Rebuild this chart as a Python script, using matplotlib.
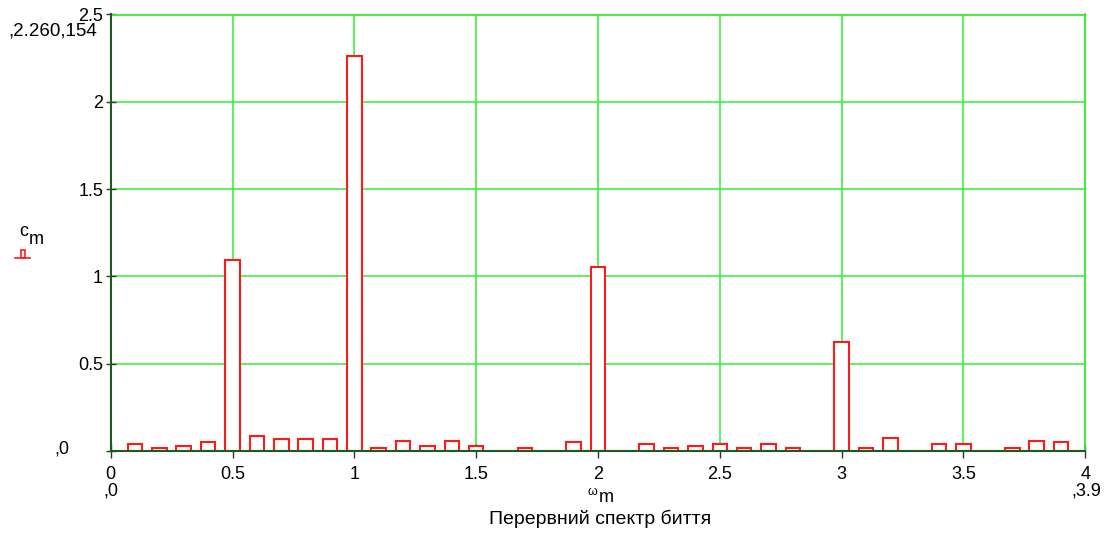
import matplotlib.pyplot as plt
from matplotlib.lines import Line2D
from matplotlib.patches import Rectangle

plt.rcParams['font.family'] = ['Liberation Sans', 'DejaVu Sans']

# spectrum data
omega = [0.1, 0.2, 0.3, 0.4, 0.5, 0.6, 0.7, 0.8, 0.9, 1.0,
         1.1, 1.2, 1.3, 1.4, 1.5, 1.7, 1.9, 2.0,
         2.2, 2.3, 2.4, 2.5, 2.6, 2.7, 2.8, 3.0,
         3.1, 3.2, 3.4, 3.5, 3.7, 3.8, 3.9]
c = [0.04, 0.02, 0.03, 0.05, 1.095, 0.088, 0.069, 0.069, 0.069, 2.260154,
     0.02, 0.06, 0.03, 0.06, 0.03, 0.02, 0.05, 1.053,
     0.04, 0.02, 0.03, 0.04, 0.02, 0.04, 0.02, 0.624,
     0.02, 0.077, 0.04, 0.04, 0.02, 0.06, 0.05]
xticks = [0, 0.5, 1, 1.5, 2, 2.5, 3, 3.5, 4]
yticks = [0, 0.5, 1, 1.5, 2, 2.5]
ylabels = ['', '0.5', '1', '1.5', '2', '2.5']
xlabels = ['0', '0.5', '1', '1.5', '2', '2.5', '3', '3.5', '4']

W, H = 1116, 537
fig = plt.figure(figsize=(W / 100, H / 100), dpi=100)
ax = fig.add_axes([110.7 / W, 1 - 451 / H, (1085.3 - 110.7) / W, (451 - 14.5) / H])

ax.bar(omega, c, width=0.06, facecolor='white', edgecolor='#ff1a1a',
       linewidth=1.5, zorder=3)

ax.set_xlim(0, 4)
ax.set_ylim(0, 2.5)
ax.set_xticks(xticks)
ax.set_xticklabels(xlabels)
ax.set_yticks(yticks)
ax.set_yticklabels(ylabels)
ax.grid(True, color='#33ee33', linewidth=1.1, zorder=1)
ax.set_axisbelow(True)

for s in ['top', 'right']:
    ax.spines[s].set_color('#33ee33')
    ax.spines[s].set_linewidth(1.3)
for s in ['left', 'bottom']:
    ax.spines[s].set_color('#1e5a1e')
    ax.spines[s].set_linewidth(1.5)
    ax.spines[s].set_zorder(4)

ax.tick_params(axis='x', direction='inout', length=10, width=1, color='#333333',
               labelsize=13, pad=6)
ax.tick_params(axis='y', direction='inout', length=7, width=1, color='#333333',
               labelsize=13, pad=2)


def px(x, y):
    return x / W, 1 - y / H


# Mathcad style limit markers and labels
fig.text(*px(8, 31), ',2.260,154', fontsize=13.5, ha='left', va='center')
fig.text(*px(62, 449), ',0', fontsize=13, ha='center', va='center')
fig.text(*px(111, 491), ',0', fontsize=13, ha='center', va='center')
fig.text(*px(1086, 491), ',3.9', fontsize=13, ha='center', va='center')

fig.text(*px(24, 232), 'c', fontsize=13, ha='center', va='center')
fig.text(*px(36, 240), 'm', fontsize=13, ha='center', va='center')
fig.text(*px(592, 492), 'ω', fontsize=9, ha='center', va='center')
fig.text(*px(606, 498), 'm', fontsize=13, ha='center', va='center')
fig.text(*px(600, 519), 'Перервний спектр биття', fontsize=14, ha='center', va='center')

# small red legend glyph under c_m
fig.add_artist(Line2D([15 / W, 30 / W], [1 - 258 / H, 1 - 258 / H],
                      color='#ff1a1a', linewidth=1.2))
fig.add_artist(Rectangle(px(20.5, 258), 4 / W, 8 / H, facecolor='none',
                         edgecolor='#ff1a1a', linewidth=1.2))

fig.savefig('out.png', dpi=100)
